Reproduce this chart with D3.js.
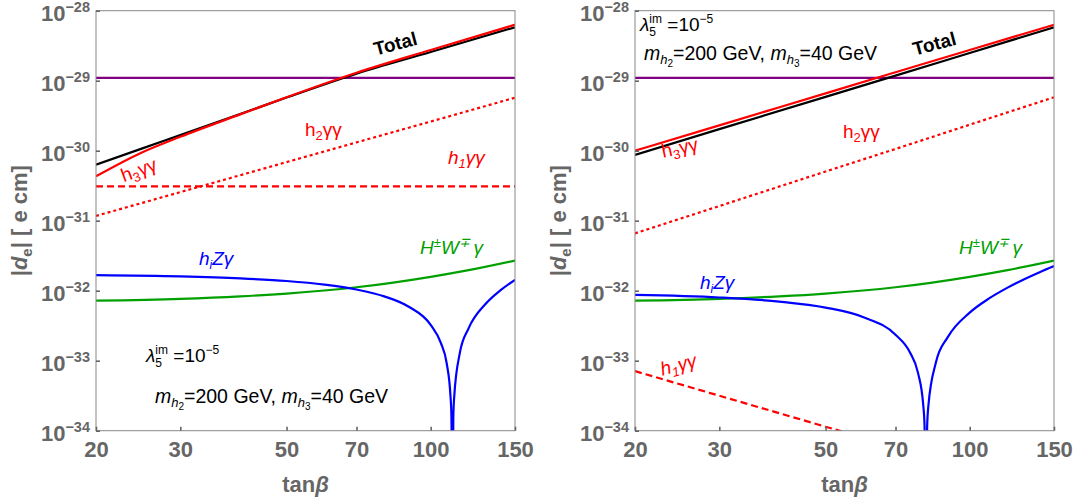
<!DOCTYPE html>
<html>
<head>
<meta charset="utf-8">
<script src="https://cdn.jsdelivr.net/npm/d3@7"></script>
<style>
  body { margin: 0; background: #fff; }
  text { font-family: "Liberation Sans", Arial, sans-serif; white-space: pre; }
</style>
</head>
<body>
<svg id="chart" width="1079" height="502"></svg>
<script>
// EDM contributions vs tan(beta), two panels

var xTicks = [20, 30, 50, 70, 100, 150];
var yTickExp = [-28, -29, -30, -31, -32, -33, -34];
var edmLimit = 1.1e-29;

// left panel
var tanLeft = [20, 25, 30, 40, 50, 70, 100, 150];
var totalLeft = [6.3e-31, 1.08e-30, 1.67e-30, 3.34e-30, 5.74e-30, 1.26e-29, 2.57e-29, 5.8e-29];
var h3Left = [4.3e-31, 9.5e-31, 1.58e-30, 3.3e-30, 5.8e-30, 1.3e-29, 2.75e-29, 6.3e-29];
var h2Left = [1.17e-31, 1.8e-31, 2.56e-31, 4.46e-31, 6.87e-31, 1.315e-30, 2.61e-30, 5.72e-30];
var h1Left = [3.1e-31, 3.1e-31, 3.1e-31, 3.1e-31, 3.1e-31, 3.1e-31, 3.1e-31, 3.1e-31];
var tanZLeft = [20, 30, 40, 50, 60, 70, 80, 90, 100, 105, 108, 110, 110.5, 111, 111.5, 112, 115, 120, 130, 140, 150];
var hzLeft = [1.67e-32, 1.6e-32, 1.5e-32, 1.375e-32, 1.22e-32, 1.04e-32, 8.3e-33, 5.9e-33, 3.25e-33, 1.8e-33, 9.2e-34, 3.1e-34, 1.56e-34, 1e-36, 1.55e-34, 3.1e-34, 1.27e-33, 2.9e-33, 6.4e-33, 1.02e-32, 1.43e-32];

// H+- W-+ gamma, same in both panels
var tanW = [20, 30, 40, 50, 70, 100, 120, 150];
var hwBoth = [7.2e-33, 7.65e-33, 8.3e-33, 9.1e-33, 1.12e-32, 1.58e-32, 1.97e-32, 2.7e-32];

// right panel
var tanRight = [20, 30, 50, 70, 100, 150];
var totalRight = [8.7e-31, 2.03e-30, 5.88e-30, 1.18e-29, 2.49e-29, 5.8e-29];
var h3Right = [1.0e-30, 2.3e-30, 6.6e-30, 1.32e-29, 2.75e-29, 6.3e-29];
var h2Right = [6.6e-32, 1.62e-31, 5.04e-31, 1.06e-30, 2.35e-30, 5.8e-30];
var tanH1Right = [20, 30, 40, 50, 60];
var h1Right = [7.1e-34, 3.16e-34, 1.78e-34, 1.14e-34, 7.9e-35];
var tanZRight = [20, 30, 40, 50, 60, 70, 75, 78, 80, 80.5, 81, 81.5, 82, 85, 90, 100, 110, 120, 130, 140, 150];
var hzRight = [8.7e-33, 8.0e-33, 7.0e-33, 5.74e-33, 4.18e-33, 2.35e-33, 1.32e-33, 6.7e-34, 2.3e-34, 1.15e-34, 1e-36, 1.14e-34, 2.3e-34, 9.4e-34, 2.17e-33, 4.86e-33, 7.82e-33, 1.107e-32, 1.46e-32, 1.84e-32, 2.25e-32];

var svg = d3.select("#chart");
var gray = "#666";
var plotTop = 10.7, plotBottom = 430.7;

// lay out a run of text pieces (sub/superscripts) one after another
function rich(g, x, y, parts, color, rotate, anchor) {
    var outer = g.append("g").attr("transform", "translate(" + x + "," + y + ") rotate(" + (rotate || 0) + ")");
    var inner = outer.append("g");
    var cx = 0, prevStart = 0;
    parts.forEach(function(p) {
        var startX = p[4] ? prevStart : cx;
        var t = inner.append("text")
            .attr("x", startX)
            .attr("y", -(p[2] || 0))
            .attr("font-size", p[1])
            .attr("fill", color)
            .attr("font-style", p[3].indexOf("i") >= 0 ? "italic" : "normal")
            .attr("font-weight", p[3].indexOf("b") >= 0 ? "bold" : "normal")
            .text(p[0]);
        var w = t.node().getComputedTextLength();
        if (p[4]) {
            cx = Math.max(cx, startX + w);
        } else {
            prevStart = startX;
            cx = startX + w;
        }
    });
    if (anchor === "middle") inner.attr("transform", "translate(" + (-cx / 2) + ",0)");
}

function drawPanel(x0, x1, series, labels) {
    var x = d3.scaleLog().domain([20, 150]).range([x0, x1]);
    var y = d3.scaleLog().domain([1e-34, 1e-28]).range([plotBottom, plotTop]);
    var id = "clip" + Math.round(x0);

    svg.append("clipPath").attr("id", id)
        .append("rect")
        .attr("x", x0).attr("y", plotTop)
        .attr("width", x1 - x0).attr("height", plotBottom - plotTop);

    var plot = svg.append("g").attr("clip-path", "url(#" + id + ")");

    var line = d3.line()
        .x(function(d) { return x(d[0]); })
        .y(function(d) { return y(d[1]); })
        .curve(d3.curveMonotoneX);

    // limit line
    plot.append("line")
        .attr("x1", x0).attr("x2", x1)
        .attr("y1", y(edmLimit)).attr("y2", y(edmLimit))
        .attr("stroke", "#800080")
        .attr("stroke-width", 2.2);

    series.forEach(function(s) {
        plot.append("path")
            .datum(d3.zip(s.x, s.v))
            .attr("fill", "none")
            .attr("stroke", s.color)
            .attr("stroke-width", 2.2)
            .attr("stroke-dasharray", s.dash || null)
            .attr("d", line);
    });

    // frame
    svg.append("rect")
        .attr("x", x0).attr("y", plotTop)
        .attr("width", x1 - x0).attr("height", plotBottom - plotTop)
        .attr("fill", "none")
        .attr("stroke", "#888")
        .attr("stroke-width", 1);

    var leftAxis = d3.axisLeft(y)
        .tickValues(yTickExp.map(function(e) { return Math.pow(10, e); }))
        .tickSize(-4)
        .tickFormat("");
    var gy = svg.append("g")
        .attr("transform", "translate(" + x0 + ",0)")
        .call(leftAxis);
    gy.select(".domain").remove();
    gy.selectAll(".tick line").attr("stroke", gray).attr("stroke-width", 1.6);

    yTickExp.forEach(function(e) {
        var t = svg.append("text")
            .attr("x", x0 - 6)
            .attr("y", y(Math.pow(10, e)) + 10)
            .attr("text-anchor", "end")
            .attr("fill", gray)
            .attr("font-weight", "bold")
            .attr("font-size", 22)
            .text("10");
        t.append("tspan")
            .attr("dy", -9)
            .attr("font-size", 14.5)
            .text("\u2212" + (-e));
    });

    var bottomAxis = d3.axisBottom(x)
        .tickValues(xTicks)
        .tickSize(-4)
        .tickPadding(11)
        .tickFormat(d3.format("d"));
    var gx = svg.append("g")
        .attr("transform", "translate(0," + plotBottom + ")")
        .call(bottomAxis);
    gx.select(".domain").remove();
    gx.selectAll(".tick line").attr("stroke", gray).attr("stroke-width", 1.6);
    gx.selectAll(".tick text")
        .attr("fill", gray)
        .attr("font-weight", "bold")
        .attr("font-size", 22)
        .attr("font-family", "Liberation Sans, Arial, sans-serif");

    // axis titles
    var xt = svg.append("text")
        .attr("x", (x0 + x1) / 2)
        .attr("y", 492)
        .attr("text-anchor", "middle")
        .attr("fill", gray)
        .attr("font-weight", "bold")
        .attr("font-size", 22)
        .text("tan");
    xt.append("tspan").attr("font-style", "italic").text("\u03b2");

    var yt = svg.append("text")
        .attr("transform", "translate(" + (x0 - 69) + "," + ((plotTop + plotBottom) / 2) + ") rotate(-90)")
        .attr("text-anchor", "middle")
        .attr("fill", gray)
        .attr("font-weight", "bold")
        .attr("font-size", 22);
    yt.append("tspan").text("|");
    yt.append("tspan").attr("font-style", "italic").text("d");
    yt.append("tspan").attr("font-size", 15).attr("dy", 5).text("e");
    yt.append("tspan").attr("dy", -5).text("| [ e cm]");

    labels.forEach(function(l) {
        rich(svg, l.x, l.y, l.parts, l.color, l.rotate, l.anchor);
    });
}

var lambdaParts = [["\u03bb", 19, 0, "i"], ["im", 12, 8, ""], ["5", 12, -5, "", true], [" =10", 19, 0, ""], ["\u22125", 12, 8, ""]];
var massParts = [["m", 19.5, 0, "i"], ["h", 13, -4, "i"], ["2", 10, -7, ""], ["=200 GeV, ", 19.5, 0, ""],
                 ["m", 19.5, 0, "i"], ["h", 13, -4, "i"], ["3", 10, -7, ""], ["=40 GeV", 19.5, 0, ""]];
var totalParts = [["Total", 19, 0, "b"]];
var h3Parts = [["h", 19, 0, ""], ["3", 13, -4, ""], ["\u03b3\u03b3", 19, 0, ""]];
var h2Parts = [["h", 19, 0, ""], ["2", 13, -4, ""], ["\u03b3\u03b3", 19, 0, ""]];
var h1Parts = [["h", 19, 0, "i"], ["1", 13, -4, "i"], ["\u03b3\u03b3", 19, 0, "i"]];
var hzParts = [["h", 19, 0, "i"], ["i", 12, -4, "i"], ["Z\u03b3", 19, 0, "i"]];
var hwParts = [["H", 19, 0, "i"], ["\u00b1", 13, 7, "i"], ["W", 19, 0, "i"], ["\u2213", 13, 7, "i"], ["\u2009\u03b3", 19, 0, "i"]];

drawPanel(96, 515, [
    { x: tanW, v: hwBoth, color: "#00a000" },
    { x: tanZLeft, v: hzLeft, color: "#0000ff" },
    { x: tanLeft, v: h1Left, color: "#ff0000", dash: "7,4" },
    { x: tanLeft, v: h2Left, color: "#ff0000", dash: "3,3" },
    { x: tanLeft, v: totalLeft, color: "#000" },
    { x: tanLeft, v: h3Left, color: "#ff0000" }
], [
    { x: 397, y: 50, parts: totalParts, color: "#000", rotate: -15, anchor: "middle" },
    { x: 141, y: 176, parts: h3Parts, color: "#ff0000", rotate: -20, anchor: "middle" },
    { x: 305, y: 136, parts: h2Parts, color: "#ff0000" },
    { x: 448, y: 164, parts: h1Parts, color: "#ff0000" },
    { x: 199, y: 265, parts: hzParts, color: "#0000ff" },
    { x: 420, y: 254, parts: hwParts, color: "#00a000" },
    { x: 146, y: 362, parts: lambdaParts, color: "#000" },
    { x: 155, y: 403, parts: massParts, color: "#000" }
]);

drawPanel(635, 1054, [
    { x: tanW, v: hwBoth, color: "#00a000" },
    { x: tanZRight, v: hzRight, color: "#0000ff" },
    { x: tanH1Right, v: h1Right, color: "#ff0000", dash: "7,4" },
    { x: tanRight, v: h2Right, color: "#ff0000", dash: "3,3" },
    { x: tanRight, v: totalRight, color: "#000" },
    { x: tanRight, v: h3Right, color: "#ff0000" }
], [
    { x: 936, y: 50, parts: totalParts, color: "#000", rotate: -15, anchor: "middle" },
    { x: 681, y: 154, parts: h3Parts, color: "#ff0000", rotate: -12, anchor: "middle" },
    { x: 843, y: 138, parts: h2Parts, color: "#ff0000" },
    { x: 680, y: 371, parts: h1Parts, color: "#ff0000", rotate: -15, anchor: "middle" },
    { x: 700, y: 289, parts: hzParts, color: "#0000ff" },
    { x: 959, y: 254, parts: hwParts, color: "#00a000" },
    { x: 640, y: 31, parts: lambdaParts, color: "#000" },
    { x: 644, y: 60, parts: massParts, color: "#000" }
]);
</script>
</body>
</html>
